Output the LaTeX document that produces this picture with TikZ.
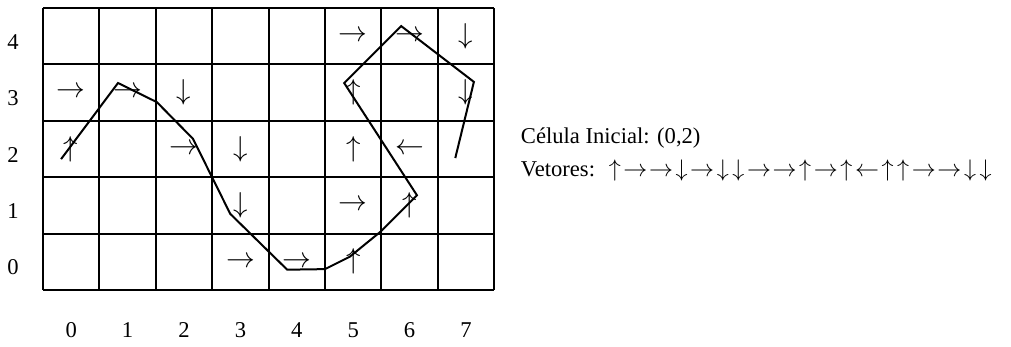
\documentclass[tikz,border=0pt]{standalone}
\usepackage{fontspec}
\setmainfont{Liberation Serif}
\usepackage{tikz}
\newcommand{\arrU}{\makebox[7.8pt]{$\uparrow$}}
\newcommand{\arrD}{\makebox[7.8pt]{$\downarrow$}}
\newcommand{\arrR}{\makebox[12.8pt]{$\rightarrow$}}
\newcommand{\arrL}{\makebox[12.8pt]{$\leftarrow$}}

\begin{document}
\begin{tikzpicture}[x=28.2pt, y=28.2pt, line width=1pt,
  every node/.style={font=\fontsize{11.3}{13.6}\selectfont, inner sep=0pt},
  vec/.style={font=\fontsize{13.5}{15}\selectfont}]
  \useasboundingbox (-0.7624,-1.0106) rectangle (17.163,5.1418);
  \draw[step=1] (0,0) grid (8,5);
  % column and row numbers
  \foreach \i in {0,...,7}
    \node (col\i) at (\i+0.5,-0.71) {\i};
  \foreach \j in {0,...,4}
    \node (row\j) at (-0.53,\j+0.4) {\j};
  % vector of each visited cell
  \foreach \c/\r/\v [count=\k] in {0/2/\uparrow, 0/3/\rightarrow, 1/3/\rightarrow, 2/3/\downarrow,
      2/2/\rightarrow, 3/2/\downarrow, 3/1/\downarrow, 3/0/\rightarrow, 4/0/\rightarrow,
      5/0/\uparrow, 5/1/\rightarrow, 6/1/\uparrow, 6/2/\leftarrow, 5/2/\uparrow,
      5/3/\uparrow, 5/4/\rightarrow, 6/4/\rightarrow, 7/4/\downarrow, 7/3/\downarrow}
    \node[vec] (v\k) at (\c+0.5,\r+0.5) {$\v$};
  % traced curve
  \draw[line join=miter] (0.32,2.32) -- (1.33,3.67) -- (2.02,3.33) -- (2.66,2.68)
    -- (3.32,1.35) -- (4.33,0.36) -- (5.0,0.37) -- (5.44,0.59) -- (5.98,1.03)
    -- (6.63,1.68) -- (5.34,3.67) -- (6.35,4.68) -- (7.64,3.69) -- (7.31,2.34);
  \node[anchor=base west] (inicial) at (8.457,2.606) {Célula Inicial: (0,2)};
  \node[anchor=base west] (vetores) at (8.457,2.021) {Vetores:\hspace{6pt}\fontsize{12.3}{14}\selectfont
    \arrU\arrR\arrR\arrD\arrR\arrD\arrD\arrR\arrR\arrU\arrR\arrU\arrL\arrU\arrU\arrR\arrR\arrD\arrD};
\end{tikzpicture}
\end{document}
